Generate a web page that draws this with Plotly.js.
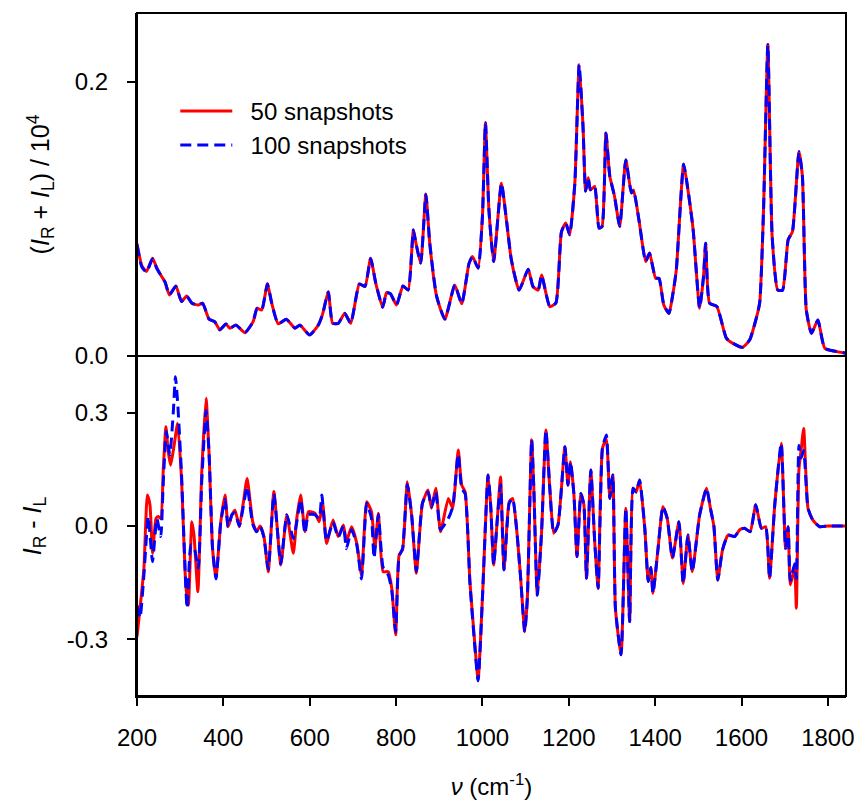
<!DOCTYPE html>
<html>
<head>
<meta charset="utf-8">
<script src="https://cdn.plot.ly/plotly-3.0.1.min.js"></script>
<style>html,body{margin:0;padding:0;background:#fff;}#chart{width:860px;height:800px;}</style>
</head>
<body>
<div id="chart"></div>
<script>
// ---- Top panel: (I_R + I_L) / 10^4 ----
const sumX = [200,211,222,236,246,257,265,275,290,303,315,327,342,352,367,380,392,406,415,429,450,469,478,489,502,512,527,546,566,577,600,620,630,643,653,666,681,695,715,728,741,753,769,778,787,801,816,828,840,846,857,869,878,894,913,936,952,969,977,990,1000,1007,1015,1026,1044,1056,1067,1085,1106,1117,1129,1137,1156,1170,1183,1193,1202,1214,1224,1233,1239,1245,1250,1260,1270,1277,1286,1295,1306,1318,1332,1345,1350,1363,1378,1387,1401,1409,1420,1432,1440,1449,1466,1476,1488,1503,1512,1517,1526,1543,1565,1580,1602,1619,1631,1642,1651,1661,1671,1684,1695,1708,1718,1733,1741,1750,1762,1777,1793,1835,1842];
const sum50 = [0.082,0.066,0.0616,0.0713,0.064,0.058,0.054,0.0445,0.051,0.0397,0.0438,0.0385,0.0372,0.0385,0.0268,0.025,0.019,0.0234,0.0202,0.0226,0.017,0.025,0.0348,0.0336,0.0526,0.0385,0.0234,0.0268,0.0202,0.0226,0.0153,0.0226,0.0307,0.0469,0.0238,0.0238,0.031,0.0238,0.0526,0.0506,0.0713,0.053,0.0355,0.0462,0.0453,0.0372,0.0511,0.048,0.092,0.0822,0.0676,0.118,0.0822,0.0433,0.0268,0.0518,0.038,0.0676,0.0725,0.064,0.1017,0.17,0.1066,0.0688,0.126,0.098,0.070,0.048,0.0633,0.0506,0.048,0.059,0.036,0.0385,0.0907,0.097,0.0883,0.126,0.2124,0.167,0.12,0.13,0.121,0.1236,0.0932,0.0944,0.1625,0.131,0.1163,0.0944,0.143,0.1188,0.121,0.098,0.0688,0.075,0.0567,0.0567,0.0372,0.031,0.0433,0.0628,0.14,0.121,0.092,0.0348,0.0579,0.0822,0.0385,0.036,0.0129,0.0092,0.0063,0.0117,0.0238,0.0385,0.1066,0.227,0.087,0.048,0.048,0.0847,0.0907,0.149,0.131,0.0336,0.0165,0.0263,0.0056,0.0024,0.002];
const sum100 = [0.081,0.065,0.0612,0.0708,0.0638,0.0578,0.0538,0.0447,0.0508,0.0398,0.0436,0.0386,0.0371,0.0384,0.0269,0.0249,0.0191,0.0233,0.0203,0.0225,0.0171,0.0251,0.0347,0.0337,0.0524,0.0386,0.0235,0.0267,0.0203,0.0225,0.0154,0.0227,0.0306,0.0467,0.0239,0.0237,0.0311,0.0239,0.0524,0.0507,0.0711,0.0531,0.0356,0.046,0.0454,0.0373,0.051,0.0481,0.0918,0.0823,0.0677,0.1178,0.0823,0.0434,0.0269,0.0517,0.0381,0.0675,0.0724,0.0641,0.1015,0.1698,0.1067,0.0689,0.1258,0.0981,0.0701,0.0481,0.0632,0.0507,0.0481,0.0589,0.0361,0.0386,0.0905,0.0968,0.0884,0.1258,0.2122,0.1668,0.1202,0.1298,0.1212,0.1235,0.0933,0.0943,0.1623,0.1312,0.1162,0.0945,0.1428,0.1189,0.1208,0.0981,0.0689,0.0749,0.0568,0.0566,0.0373,0.0311,0.0432,0.0627,0.1398,0.1212,0.0921,0.0349,0.0578,0.0821,0.0386,0.0361,0.013,0.0093,0.0064,0.0118,0.0237,0.0386,0.1064,0.2268,0.0872,0.0481,0.0479,0.0846,0.0908,0.1488,0.1312,0.0337,0.0166,0.0262,0.0057,0.0025,0.002];

// ---- Bottom panel: I_R - I_L ----
const difX50 = [200,207,216,224,230,236,244,249,255,261,267,272,278,286,294,303,313,319,327,332,341,350,360,367,375,383,394,404,411,420,427,437,446,455,468,477,485,494,504,517,533,547,562,570,579,589,597,612,622,630,639,654,666,678,685,697,709,720,732,743,751,759,770,782,790,799,807,815,826,836,847,861,874,882,892,903,921,931,944,952,960,971,981,990,1000,1013,1019,1026,1034,1042,1050,1062,1070,1079,1088,1098,1104,1114,1119,1127,1137,1147,1156,1165,1175,1191,1198,1204,1212,1219,1228,1235,1241,1251,1260,1268,1278,1287,1295,1302,1308,1321,1332,1341,1349,1356,1364,1376,1384,1390,1395,1406,1418,1428,1440,1455,1465,1476,1486,1503,1519,1528,1536,1545,1556,1569,1584,1596,1607,1620,1633,1646,1656,1665,1677,1692,1702,1708,1713,1723,1727,1733,1738,1744,1754,1765,1781,1800,1842];
const dif50 = [-0.293,-0.218,-0.112,0.082,0.056,-0.072,0.020,0.025,0.02,0.153,0.263,0.2,0.161,0.214,0.272,0.126,-0.156,-0.209,0.011,-0.024,-0.174,0.144,0.338,0.188,-0.059,-0.138,0.011,0.082,-0.002,0.03,0.042,-0.002,0.06,0.126,0.011,-0.015,0.0,-0.028,-0.121,0.091,-0.103,0.029,-0.072,0.020,0.082,-0.015,0.038,0.034,0.011,0.06,-0.046,0.016,-0.028,0.003,-0.041,-0.002,-0.046,-0.130,0.064,0.038,-0.059,0.034,-0.121,-0.121,-0.165,-0.288,-0.077,-0.063,0.117,0.029,-0.125,0.060,0.095,0.047,0.100,-0.015,0.073,0.047,0.201,0.108,0.09,-0.147,-0.293,-0.407,-0.191,0.135,0.056,-0.103,0.011,0.130,-0.116,0.064,0.073,-0.006,-0.130,-0.280,-0.191,0.228,0.100,-0.183,-0.015,0.254,0.100,-0.019,0.003,0.210,0.108,0.170,0.082,-0.081,0.086,0.056,-0.138,0.148,-0.041,-0.165,0.206,0.23,0.073,0.135,-0.218,-0.341,0.047,-0.253,0.100,0.09,0.122,-0.006,-0.147,-0.11,-0.178,-0.068,0.051,0.02,-0.085,0.011,-0.152,-0.024,-0.121,0.029,0.100,0.047,0.0,-0.143,-0.063,-0.024,-0.028,-0.01,-0.006,-0.015,0.056,-0.006,-0.002,-0.138,0.056,0.219,-0.059,-0.002,-0.156,-0.112,-0.218,0.15,0.2,0.258,0.047,0.016,-0.002,0.0,0.0];
const difX100 = [200,207,216,226,236,246,255,261,268,276,284,289,294,303,316,325,333,342,350,360,367,375,383,394,404,411,420,427,437,446,455,468,477,485,494,504,517,533,547,562,570,579,589,597,612,622,628,639,654,666,678,685,697,709,720,732,743,749,759,770,782,790,799,807,815,826,836,847,861,874,882,892,903,921,931,944,952,960,971,981,990,1000,1013,1019,1026,1034,1042,1050,1062,1070,1079,1088,1098,1104,1114,1119,1127,1137,1147,1156,1165,1175,1191,1198,1204,1212,1219,1228,1235,1241,1251,1260,1268,1278,1287,1295,1302,1308,1321,1332,1341,1349,1356,1364,1376,1384,1390,1395,1406,1418,1428,1440,1455,1465,1476,1486,1503,1519,1528,1536,1545,1556,1569,1584,1596,1607,1620,1633,1646,1656,1665,1677,1692,1702,1708,1713,1723,1727,1733,1738,1744,1754,1765,1781,1800,1842];
const dif100 = [-0.21,-0.243,-0.13,0.025,-0.094,0.02,-0.028,0.12,0.25,0.188,0.3,0.395,0.33,0.14,-0.218,-0.05,-0.06,-0.112,0.12,0.306,0.19,-0.06,-0.14,0.01,0.07,-0.002,0.03,0.035,0.0,0.05,0.104,0.005,-0.015,0.0,-0.03,-0.115,0.085,-0.1,0.03,-0.033,0.01,0.07,-0.02,0.03,0.03,0.02,0.082,-0.04,0.01,-0.03,0.0,-0.06,-0.01,-0.05,-0.14,0.06,0.02,-0.085,0.03,-0.11,-0.13,-0.17,-0.28,-0.08,-0.06,0.11,0.03,-0.12,0.06,0.09,0.05,0.09,-0.01,0.02,0.05,0.19,0.1,0.085,-0.15,-0.3,-0.41,-0.19,0.135,0.056,-0.103,0.011,0.11,-0.116,0.06,0.073,-0.006,-0.130,-0.280,-0.191,0.228,0.100,-0.183,-0.015,0.254,0.100,-0.019,0.003,0.210,0.108,0.170,0.082,-0.081,0.086,0.056,-0.138,0.148,-0.041,-0.165,0.206,0.241,0.073,0.135,-0.218,-0.341,0.047,-0.253,0.100,0.09,0.122,-0.006,-0.147,-0.11,-0.178,-0.068,0.051,0.02,-0.085,0.011,-0.152,-0.024,-0.121,0.029,0.100,0.047,0.0,-0.143,-0.063,-0.024,-0.028,-0.01,-0.006,-0.015,0.056,-0.006,-0.002,-0.138,0.056,0.219,-0.059,-0.002,-0.145,-0.1,-0.14,0.214,0.18,0.2,0.047,0.016,-0.002,0.0,0.0];

const seriesNames = ['50 snapshots', '100 snapshots'];
const xTicks = [200,400,600,800,1000,1200,1400,1600,1800];

const FONT = 'Liberation Sans, Arial, sans-serif';
const redLine = {color: '#ff0000', width: 3, shape: 'spline', smoothing: 0.5};
const blueLine = {color: '#0000ff', width: 3, dash: '11px,6px', shape: 'spline', smoothing: 0.5};
const PAD = '\u00a0\u00a0';
const SP = '\u00a0';

const traces = [
  {x: sumX, y: sum50, name: PAD + seriesNames[0], mode: 'lines', line: redLine, xaxis: 'x', yaxis: 'y', legendgroup: 'a'},
  {x: sumX, y: sum100, name: PAD + seriesNames[1], mode: 'lines', line: blueLine, xaxis: 'x', yaxis: 'y', legendgroup: 'b'},
  {x: difX50, y: dif50, name: seriesNames[0], mode: 'lines', line: redLine, xaxis: 'x', yaxis: 'y2', showlegend: false, legendgroup: 'a'},
  {x: difX100, y: dif100, name: seriesNames[1], mode: 'lines', line: blueLine, xaxis: 'x', yaxis: 'y2', showlegend: false, legendgroup: 'b'}
];

const split = 0.4978;
const layout = {
  width: 860, height: 800,
  margin: {l: 137, r: 14, t: 13, b: 104},
  paper_bgcolor: '#fff', plot_bgcolor: '#fff',
  font: {family: FONT, size: 24, color: '#000'},
  showlegend: true,
  legend: {x: 0.054, y: 0.889, xanchor: 'left', yanchor: 'top', bgcolor: 'rgba(0,0,0,0)', font: {size: 24}, itemwidth: 52, tracegroupgap: 0},
  xaxis: {
    anchor: 'y2', range: [200, 1842], tickvals: xTicks, ticktext: xTicks.map(String),
    showgrid: false, zeroline: false, showline: true, linecolor: '#000', linewidth: 2,
    ticks: 'outside', ticklen: 8, tickwidth: 2, tickcolor: '#000', ticklabelstandoff: 11,
    tickfont: {size: 24},
    title: {text: '<i>ν</i> (cm<sup>-1</sup>)', font: {size: 24}, standoff: 30}
  },
  yaxis: {
    domain: [split, 1], range: [0, 0.25], tickvals: [0, 0.2], ticktext: ['0.0', '0.2'],
    showgrid: false, zeroline: false, showline: true, linecolor: '#000', linewidth: 2,
    ticks: 'outside', ticklen: 8, tickwidth: 2, tickcolor: '#000', ticklabelstandoff: 14,
    tickfont: {size: 24},
    title: {text: '(<i>I</i><sub>R</sub>' + SP + '+' + SP + '<i>I</i><sub>L</sub>)' + SP + '/' + SP + '10<sup>4</sup>', font: {size: 25}, standoff: 18}
  },
  yaxis2: {
    domain: [0, split], range: [-0.45, 0.45], tickvals: [-0.3, 0, 0.3], ticktext: ['-0.3', '0.0', '0.3'],
    showgrid: false, zeroline: false, showline: true, linecolor: '#000', linewidth: 2,
    ticks: 'outside', ticklen: 8, tickwidth: 2, tickcolor: '#000', ticklabelstandoff: 14,
    tickfont: {size: 24},
    title: {text: '<i>I</i><sub>R</sub>' + SP + '-' + SP + '<i>I</i><sub>L</sub>', font: {size: 25}, standoff: 18}
  },
  shapes: [
    {type: 'rect', xref: 'paper', yref: 'paper', x0: 0, x1: 1, y0: 0, y1: 1, line: {color: '#000', width: 2}},
    {type: 'line', xref: 'paper', yref: 'paper', x0: 0, x1: 1, y0: split, y1: split, line: {color: '#000', width: 2}}
  ]
};

Plotly.newPlot('chart', traces, layout, {displayModeBar: false, staticPlot: true});
</script>
</body>
</html>
